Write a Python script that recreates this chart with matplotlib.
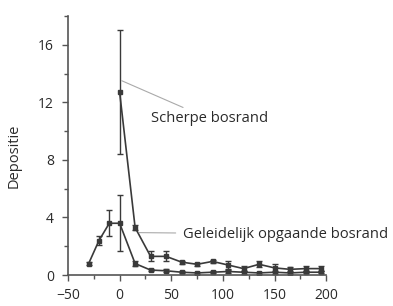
import matplotlib
matplotlib.use("Agg")
import matplotlib.pyplot as plt
from matplotlib.ticker import MultipleLocator

plt.rcParams['font.family'] = ['Open Sans', 'DejaVu Sans']

# Scherpe bosrand (sharp forest edge)
sharp_x = [0, 15, 30, 45, 60, 75, 90, 105, 120, 135, 150, 165, 180, 195]
sharp_y = [12.7, 3.3, 1.3, 1.3, 0.9, 0.75, 0.95, 0.7, 0.45, 0.75, 0.5, 0.4, 0.45, 0.45]
sharp_err = [4.3, 0.15, 0.35, 0.35, 0.1, 0.1, 0.1, 0.3, 0.2, 0.2, 0.3, 0.15, 0.15, 0.2]

# Geleidelijk opgaande bosrand (gradual forest edge)
grad_x = [-30, -20, -10, 0, 15, 30, 45, 60, 75, 90, 105, 120, 135, 150, 165, 180, 195]
grad_y = [0.8, 2.4, 3.6, 3.6, 0.8, 0.35, 0.3, 0.2, 0.15, 0.2, 0.25, 0.2, 0.15, 0.2, 0.15, 0.2, 0.2]
grad_err = [0.1, 0.3, 0.9, 1.95, 0.15, 0.1, 0.1, 0.05, 0.05, 0.05, 0.1, 0.1, 0.05, 0.1, 0.05, 0.05, 0.05]

xticks = [-50, 0, 50, 100, 150, 200]
yticks = [0, 4, 8, 12, 16]

fig = plt.figure(figsize=(3.93, 3.06), dpi=100)
ax = fig.add_axes([0.173, 0.101, 0.657, 0.847])

col = '#3a3a3a'
for xs, ys, es in [(sharp_x, sharp_y, sharp_err), (grad_x, grad_y, grad_err)]:
    ax.errorbar(xs, ys, yerr=es, color=col, lw=1.2, marker='s', ms=3.2,
                capsize=2.5, elinewidth=1.0, capthick=1.0)

ax.set_xlim(-50, 200)
ax.set_ylim(0, 18)
ax.set_xticks(xticks)
ax.set_yticks(yticks)
ax.xaxis.set_minor_locator(MultipleLocator(25))
ax.yaxis.set_minor_locator(MultipleLocator(2))
ax.tick_params(which='both', direction='out', colors='#555555', labelcolor='#2a2a2a',
               width=1.0)
ax.tick_params(axis='both', which='major', labelsize=10, length=4)
ax.tick_params(axis='x', which='major', pad=5)
ax.tick_params(axis='y', which='major', pad=6)
ax.tick_params(which='minor', length=3)
for s in ['top', 'right']:
    ax.spines[s].set_visible(False)
for s in ['left', 'bottom']:
    ax.spines[s].set_color('#555555')
    ax.spines[s].set_linewidth(1.2)

ax.set_ylabel('Depositie', fontsize=10.5, color='#2a2a2a')
ax.yaxis.set_label_coords(-0.178, 0.46)

ax.annotate('Scherpe bosrand', xy=(2, 13.5), xytext=(30, 10.85),
            fontsize=10.6, color='#2a2a2a', va='center', ha='left',
            arrowprops=dict(arrowstyle='-', color='#aaaaaa', lw=0.8, shrinkA=2, shrinkB=0))
ax.annotate('Geleidelijk opgaande bosrand', xy=(19, 2.95), xytext=(61, 2.85),
            fontsize=10.6, color='#2a2a2a', va='center', ha='left',
            arrowprops=dict(arrowstyle='-', color='#aaaaaa', lw=0.8, shrinkA=3, shrinkB=0))

fig.savefig('out.png', dpi=100)
